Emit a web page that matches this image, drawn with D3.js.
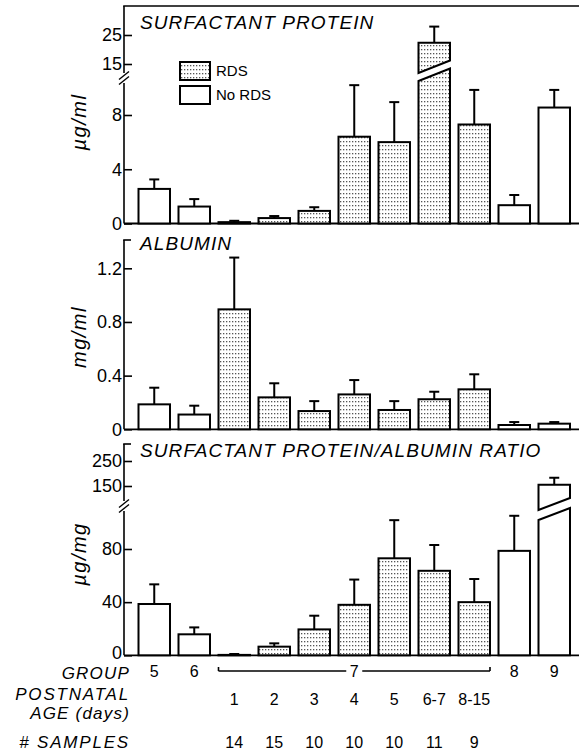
<!DOCTYPE html>
<html>
<head>
<meta charset="utf-8">
<script src="https://cdn.jsdelivr.net/npm/d3@7"></script>
<style>
  html, body { margin: 0; padding: 0; background: #fff; }
  svg { display: block; font-family: "Liberation Sans", Arial, sans-serif; }
</style>
</head>
<body>
<svg id="chart" width="579" height="754"></svg>
<script>
// ---------- data ----------
const groupLabels   = ["5","6","7","7","7","7","7","7","7","8","9"];
const ageLabels     = ["","","1","2","3","4","5","6-7","8-15","",""];
const sampleCounts  = ["","","14","15","10","10","10","11","9","",""];
const rdsFlags      = [0,0,1,1,1,1,1,1,1,0,0];

const surfactant    = [2.55, 1.25, 0.1, 0.4, 0.93, 6.4, 6.0, 22.3, 7.3, 1.35, 8.55];
const surfactantErr = [3.25, 1.8, 0.2, 0.55, 1.2, 10.2, 8.95, 27.9, 9.85, 2.1, 9.85];

const albumin       = [0.186, 0.11, 0.894, 0.238, 0.136, 0.26, 0.144, 0.224, 0.298, 0.032, 0.042];
const albuminErr    = [0.31, 0.176, 1.28, 0.343, 0.21, 0.367, 0.21, 0.28, 0.41, 0.054, 0.054];

const ratio         = [38.6, 15.8, 0.3, 6.5, 19.5, 38, 73, 63.6, 40, 78.6, 155];
const ratioErr      = [53.4, 21, 1, 9, 29.8, 57, 101.7, 83, 57.4, 105, 183];

const surfTicksLow  = [0, 4, 8];
const surfTicksHigh = [15, 25];
const albTicks      = [0, 0.4, 0.8, 1.2];
const ratioTicksLow = [0, 40, 80];
const ratioTicksHigh= [150, 250];

// ---------- layout ----------
const svg = d3.select("#chart");
const axisX = 124;
const x = d3.scaleBand().domain(d3.range(11)).range([134.25, 574.25])
  .paddingInner(0.2125).paddingOuter(0.10625);
const bw = x.bandwidth();

const defs = svg.append("defs");
const pat = defs.append("pattern").attr("id", "stipple")
  .attr("patternUnits", "userSpaceOnUse").attr("width", 3).attr("height", 4);
pat.append("rect").attr("width", 3).attr("height", 4).attr("fill", "#fff");
pat.append("rect").attr("x", 1).attr("y", 1).attr("width", 1.3).attr("height", 1.3).attr("fill", "#555");

const fillFor = i => rdsFlags[i] ? "url(#stipple)" : "#fff";

const panels = [
  {
    values: surfactant, errs: surfactantErr,
    low: d3.scaleLinear().domain([0, 8]).range([223.5, 115]), lowMax: 10.5,
    high: d3.scaleLinear().domain([15, 25]).range([64, 35]),
    ticksLow: surfTicksLow, ticksHigh: surfTicksHigh, fmt: d => String(d),
    top: 6, breakY: 78, cutL: 77, cutR: 64.5, gap: 8, frame: true, zeroNudge: 0,
    title: "SURFACTANT PROTEIN", titleY: 29,
    ylabel: "\u00b5g/ml", ylabelY: 122
  },
  {
    values: albumin, errs: albuminErr,
    low: d3.scaleLinear().domain([0, 1.2]).range([429.3, 268.3]), lowMax: 1.4,
    high: null,
    ticksLow: albTicks, ticksHigh: [], fmt: d => d === 0 ? "0" : d3.format(".1f")(d),
    top: 240, frame: false, zeroNudge: 0,
    title: "ALBUMIN", titleY: 250,
    ylabel: "mg/ml", ylabelY: 337
  },
  {
    values: ratio, errs: ratioErr,
    low: d3.scaleLinear().domain([0, 80]).range([655.3, 549]), lowMax: 112,
    high: d3.scaleLinear().domain([150, 250]).range([486, 461]),
    ticksLow: ratioTicksLow, ticksHigh: ratioTicksHigh, fmt: d => String(d),
    top: 444, breakY: 506, cutL: 515, cutR: 503, gap: 10, frame: false, zeroNudge: -3,
    title: "SURFACTANT PROTEIN/ALBUMIN RATIO", titleY: 457,
    ylabel: "\u00b5g/mg", ylabelY: 554
  }
];

panels.forEach(p => {
  const g = svg.append("g");
  const base = p.low(0);
  const lowMax = p.lowMax;
  const yv = v => (p.high && v > lowMax) ? p.high(v) : p.low(v);

  const mkAxis = (scale, ticks) => {
    const ax = g.append("g").attr("transform", `translate(${axisX},0)`)
      .call(d3.axisLeft(scale).tickValues(ticks).tickFormat(p.fmt)
        .tickSize(-8).tickPadding(2));
    ax.select(".domain").remove();
    ax.selectAll(".tick line").attr("stroke", "#000").attr("stroke-width", 1.6);
    ax.selectAll(".tick text").attr("font-size", 18).attr("fill", "#000")
      .attr("y", d => d === 0 ? p.zeroNudge : 0);
  };
  mkAxis(p.low, p.ticksLow);
  if (p.high) mkAxis(p.high, p.ticksHigh);

  const line = (x1, y1, x2, y2, w) => g.append("line")
    .attr("x1", x1).attr("y1", y1).attr("x2", x2).attr("y2", y2)
    .attr("stroke", "#000").attr("stroke-width", w || 1.6);
  if (p.high) {
    line(axisX, p.top, axisX, p.breakY - 5);
    line(axisX, p.breakY + 5, axisX, base);
    [-2.5, 2.5].forEach(o => line(axisX - 5, p.breakY + o + 4, axisX + 5, p.breakY + o - 4, 1.4));
  } else {
    line(axisX, p.top, axisX, base);
  }
  line(axisX - 0.8, p.top, p.frame ? 579 : axisX + 7, p.top);
  line(axisX, base, 579, base, 1.8);

  p.values.forEach((v, i) => {
    const x0 = x(i), x1 = x(i) + bw;
    if (p.high && v > lowMax) {
      const lowPts = [[x0, base], [x0, p.cutL + p.gap / 2], [x1, p.cutR + p.gap / 2], [x1, base]];
      const highPts = [[x0, p.cutL - p.gap / 2], [x0, p.high(v)], [x1, p.high(v)], [x1, p.cutR - p.gap / 2]];
      [lowPts, highPts].forEach(pts => {
        g.append("path").attr("d", d3.line()(pts) + "Z")
          .attr("fill", fillFor(i)).attr("stroke", "#000").attr("stroke-width", 2)
          .attr("stroke-linejoin", "miter");
      });
    } else {
      g.append("rect").attr("x", x0).attr("y", p.low(v))
        .attr("width", bw).attr("height", base - p.low(v))
        .attr("fill", fillFor(i)).attr("stroke", "#000").attr("stroke-width", 2);
    }
    const cx = x0 + bw / 2;
    const yTop = yv(v), yErr = yv(p.errs[i]);
    line(cx, yTop, cx, yErr, 2);
    line(cx - 5, yErr, cx + 5, yErr, 2);
  });

  g.append("text").attr("x", 140).attr("y", p.titleY)
    .attr("font-size", 19).attr("font-style", "italic").attr("letter-spacing", 1.1)
    .text(p.title);
  g.append("text").attr("transform", `translate(86,${p.ylabelY}) rotate(-90)`)
    .attr("text-anchor", "middle").attr("font-size", 20).attr("font-style", "italic")
    .attr("letter-spacing", 1.5).text(p.ylabel);
});

// legend
const leg = svg.append("g");
[["RDS", 1, 62, 76], ["No RDS", 0, 86, 100]].forEach(([lab, r, yy, ty]) => {
  leg.append("rect").attr("x", 180).attr("y", yy).attr("width", 30).attr("height", 18)
    .attr("fill", r ? "url(#stipple)" : "#fff").attr("stroke", "#000").attr("stroke-width", 2);
  leg.append("text").attr("x", 216).attr("y", ty).attr("font-size", 15).text(lab);
});

// bottom rows
const rows = svg.append("g");
const rowLabel = (t, y, ls) => rows.append("text").attr("x", 130).attr("y", y)
  .attr("text-anchor", "end").attr("font-size", 17).attr("font-style", "italic")
  .attr("letter-spacing", ls).text(t);
rowLabel("GROUP", 679, 1.2);
rowLabel("POSTNATAL", 700, 1.8);
rowLabel("AGE (days)", 719, 1.2);
rowLabel("# SAMPLES", 748, 1.8);

const cxOf = i => x(i) + bw / 2;
const numText = (t, cx, y) => rows.append("text").attr("x", cx).attr("y", y)
  .attr("text-anchor", "middle").attr("font-size", 16).text(t);

const g7 = groupLabels.map((g, i) => g === "7" ? i : -1).filter(i => i >= 0);
groupLabels.forEach((g, i) => { if (g !== "7") numText(g, cxOf(i), 677); });
const bx0 = x(g7[0]), bx1 = x(g7[g7.length - 1]) + bw, bmid = (bx0 + bx1) / 2;
const by = 671;
const bl = (a, b, c, d) => rows.append("line").attr("x1", a).attr("y1", b).attr("x2", c).attr("y2", d)
  .attr("stroke", "#000").attr("stroke-width", 1.6);
bl(bx0, by, bmid - 8, by);
bl(bmid + 8, by, bx1, by);
bl(bx0, by, bx0, by - 4);
bl(bx1, by, bx1, by - 4);
numText("7", bmid, 677);

ageLabels.forEach((a, i) => { if (a) numText(a, cxOf(i), 705); });
sampleCounts.forEach((s, i) => { if (s) numText(s, cxOf(i), 748); });
</script>
</body>
</html>
